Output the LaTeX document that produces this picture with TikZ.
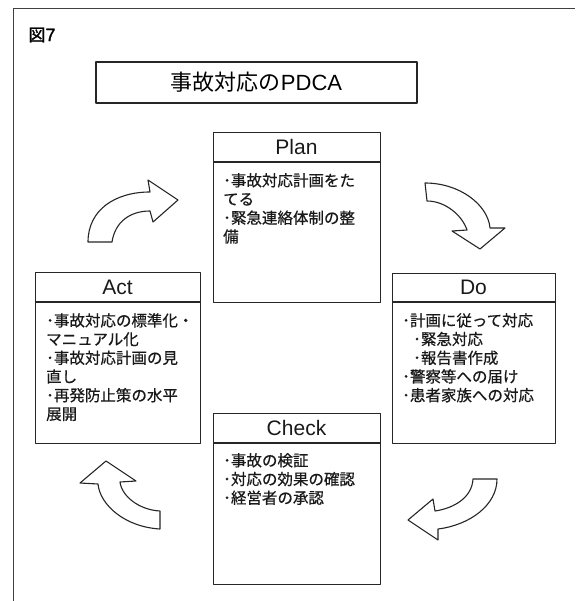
\documentclass[tikz,border=0pt]{standalone}
\usepackage{fontspec}
\setmainfont{Liberation Sans}
\newfontfamily\cjk{Noto Sans CJK JP}
\newfontfamily\cjkm[FakeBold=0.6]{Noto Sans CJK JP}
\newfontfamily\cjkb[FakeBold=1.5]{Noto Sans CJK JP}
\newfontfamily\latb[FakeBold=1.5]{Liberation Sans}
\newcommand{\bul}{･}
\begin{document}
\begin{tikzpicture}[x=1pt,y=-1pt,
  line join=round,
  frame/.style={draw=black!75, line width=0.8pt},
  boxs/.style={draw=black!85, line width=1.1pt, inner sep=0pt, anchor=north west},
  hdr/.style={font=\fontsize{21}{24}\selectfont, text=black!90, inner sep=0pt},
  body/.style={font=\cjkm\fontsize{15.5}{18.7}\selectfont, text=black!90, align=left, inner sep=0pt, anchor=north west},
  arrowshape/.style={draw=black!85, line width=1.1pt, fill=white}
]
\useasboundingbox (0,0) rectangle (575,601);
% outer frame
\draw[frame] (13,601) -- (13,8) -- (575,8);
% figure label
\node[inner sep=0pt] (fig) at (42,35) {\cjkb\fontsize{17}{20}\selectfont 図\latb\fontsize{18}{20}\selectfont 7};
% title
\node[draw=black!85, line width=1.1pt, minimum width=321pt, minimum height=41pt, inner sep=0pt] (title) at (256.5,82.5)
  {\cjk\fontsize{22}{24}\selectfont 事故対応の\fontspec{Liberation Sans}PDCA};

% Plan
\node[boxs, minimum width=167pt, minimum height=170pt] (plan) at (213,132) {};
\draw[black!85, line width=1.1pt] ([yshift=-30pt]plan.north west) -- ([yshift=-30pt]plan.north east);
\node[hdr] (planH) at (296.5,147) {Plan};
\node[body] (planT) at (223,173) {\bul 事故対応計画をた\\てる\\\bul 緊急連絡体制の整\\備};

% Act
\node[boxs, minimum width=165pt, minimum height=171pt] (act) at (35,272) {};
\draw[black!85, line width=1.1pt] ([yshift=-30pt]act.north west) -- ([yshift=-30pt]act.north east);
\node[hdr] (actH) at (117.5,287) {Act};
\node[body] (actT) at (46,313) {\bul 事故対応の標準化・\\マニュアル化\\\bul 事故対応計画の見\\直し\\\bul 再発防止策の水平\\展開};

% Do
\node[boxs, minimum width=163pt, minimum height=170pt] (do) at (392,273) {};
\draw[black!85, line width=1.1pt] ([yshift=-29pt]do.north west) -- ([yshift=-29pt]do.north east);
\node[hdr] (doH) at (473.5,287.5) {Do};
\node[body] (doT) at (402,313) {\bul 計画に従って対応\\\hspace*{11pt}\bul 緊急対応\\\hspace*{11pt}\bul 報告書作成\\\bul 警察等への届け\\\bul 患者家族への対応};

% Check
\node[boxs, minimum width=167pt, minimum height=171pt] (check) at (213,413) {};
\draw[black!85, line width=1.1pt] ([yshift=-30pt]check.north west) -- ([yshift=-30pt]check.north east);
\node[hdr] (checkH) at (296.5,428) {Check};
\node[body] (checkT) at (223,453) {\bul 事故の検証\\\bul 対応の効果の確認\\\bul 経営者の承認};

% curved arrows
\draw[arrowshape] (88,242) .. controls (88,210) and (115,192) .. (150,192) -- (148,180) -- (178,200) -- (153,222) -- (150,211)
  .. controls (130,211) and (115,222) .. (112,242) -- cycle;
\draw[arrowshape] (425,183) .. controls (460,183) and (488,205) .. (490,228) -- (505,228) -- (480,249) -- (452,231) -- (467,230)
  .. controls (462,215) and (445,201) .. (427,201) -- cycle;
\draw[arrowshape] (497,479) .. controls (497,505) and (470,525) .. (438,529) -- (438,540) -- (408,520) -- (433,499) -- (435,511)
  .. controls (455,508) and (472,497) .. (473,479) -- cycle;
\draw[arrowshape] (106,461) -- (136,481) -- (120,482) .. controls (122,497) and (140,510) .. (160,511) -- (160,529)
  .. controls (125,527) and (100,505) .. (98,484) -- (80,483) -- cycle;
\end{tikzpicture}
\end{document}
